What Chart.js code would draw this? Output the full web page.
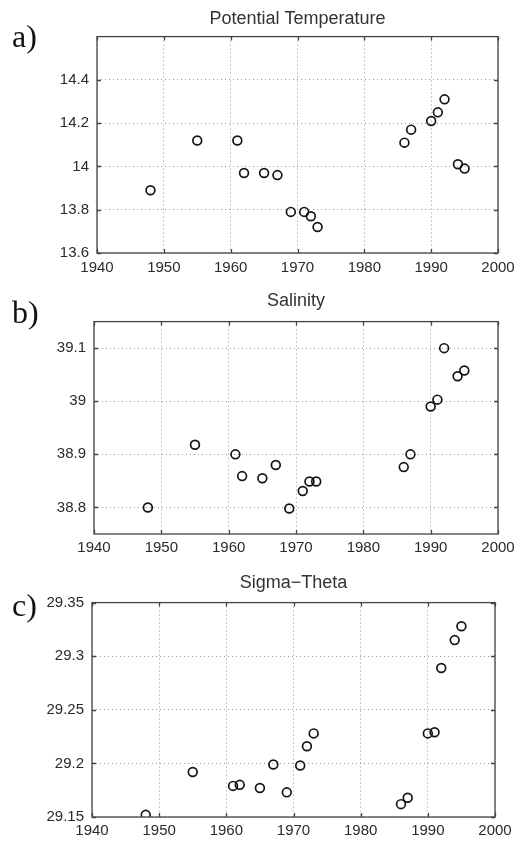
<!DOCTYPE html>
<html>
<head>
<meta charset="utf-8">
<script src="https://cdn.jsdelivr.net/npm/chart.js@4"></script>
<style>
    html, body { margin: 0; padding: 0; background: #fff; }
    #page { position: relative; width: 514px; height: 842px; overflow: hidden; }
    .panel { position: absolute; left: 0; width: 514px; }
    .tag { position: absolute; left: 12px; font-family: 'Liberation Serif', 'DejaVu Serif', serif; font-size: 32px; line-height: 1; color: #111; }
</style>
</head>
<body>
<div id="page">
    <div class="panel" style="top:0;height:280px"><canvas id="chartTemp"></canvas></div>
    <div class="panel" style="top:280px;height:280px"><canvas id="chartSal"></canvas></div>
    <div class="panel" style="top:560px;height:282px"><canvas id="chartSig"></canvas></div>
    <div class="tag" style="top:20px">a)</div>
    <div class="tag" style="top:296px">b)</div>
    <div class="tag" style="top:589px">c)</div>
</div>
<script>
const years = [1948, 1955, 1961, 1962, 1965, 1967, 1969, 1971, 1972, 1973, 1986, 1987, 1990, 1991, 1992, 1994, 1995];
const potentialTemperature = [13.89, 14.12, 14.12, 13.97, 13.97, 13.96, 13.79, 13.79, 13.77, 13.72, 14.11, 14.17, 14.21, 14.25, 14.31, 14.01, 13.99];
const salinity = [38.80, 38.918, 38.90, 38.859, 38.855, 38.88, 38.798, 38.831, 38.849, 38.849, 38.876, 38.90, 38.99, 39.003, 39.10, 39.047, 39.058];
const sigmaTheta = [29.152, 29.192, 29.179, 29.18, 29.177, 29.199, 29.173, 29.198, 29.216, 29.228, 29.162, 29.168, 29.228, 29.229, 29.289, 29.315, 29.328];

const yearTicks = [1940, 1950, 1960, 1970, 1980, 1990, 2000];
const tempTicks = [13.6, 13.8, 14, 14.2, 14.4];
const salTicks = [38.8, 38.9, 39, 39.1];
const sigTicks = [29.15, 29.2, 29.25, 29.3, 29.35];

const tickColor = '#2a2a2a';
const gridColor = 'rgba(120, 120, 120, 0.75)';
const frameColor = '#444';
const labelFont = "'Liberation Sans', Arial, sans-serif";

// matlab-style box with small inward ticks
const framePlugin = {
    id: 'frame',
    afterDatasetsDraw(chart) {
        const { ctx, chartArea: a, scales } = chart;
        ctx.save();
        ctx.strokeStyle = frameColor;
        ctx.lineWidth = 1.3;
        ctx.beginPath();
        scales.x.ticks.forEach((t) => {
            const px = Math.round(scales.x.getPixelForValue(t.value)) + 0.5;
            ctx.moveTo(px, a.bottom); ctx.lineTo(px, a.bottom - 4);
            ctx.moveTo(px, a.top); ctx.lineTo(px, a.top + 4);
        });
        scales.y.ticks.forEach((t) => {
            const py = Math.round(scales.y.getPixelForValue(t.value)) + 0.5;
            ctx.moveTo(a.left, py); ctx.lineTo(a.left + 4, py);
            ctx.moveTo(a.right, py); ctx.lineTo(a.right - 4, py);
        });
        ctx.stroke();
        ctx.strokeRect(a.left, a.top, a.right - a.left, a.bottom - a.top);
        ctx.restore();
    },
};

function makePanel(id, opts) {
    return new Chart(document.getElementById(id), {
        type: 'scatter',
        data: {
            datasets: [{
                data: years.map((x, i) => ({ x, y: opts.values[i] })),
                pointStyle: 'circle',
                pointRadius: 4.4,
                pointHoverRadius: 4.4,
                pointBorderWidth: 1.7,
                pointBorderColor: '#151515',
                pointBackgroundColor: 'rgba(0,0,0,0)',
            }],
        },
        options: {
            responsive: true,
            maintainAspectRatio: false,
            animation: false,
            layout: { padding: { left: 0, right: opts.right, top: 0, bottom: 0 } },
            plugins: {
                legend: { display: false },
                tooltip: { enabled: false },
                title: {
                    display: true,
                    text: opts.title,
                    fullSize: false,
                    color: '#333',
                    font: { family: labelFont, size: 18, weight: 'normal' },
                    padding: { top: opts.titleTop, bottom: opts.titleBottom },
                },
            },
            scales: {
                x: {
                    type: 'linear',
                    min: 1940,
                    max: 2000,
                    afterBuildTicks: (s) => { s.ticks = yearTicks.map((v) => ({ value: v })); },
                    afterFit: (s) => {
                        s.height = opts.xHeight;
                        s.paddingLeft = 0;
                        s.paddingRight = 0;
                    },
                    border: { display: false, dash: [1, 3] },
                    grid: { color: gridColor, lineWidth: 1, drawTicks: false },
                    ticks: {
                        color: tickColor,
                        padding: opts.xPad,
                        maxRotation: 0,
                        autoSkip: false,
                        font: { family: labelFont, size: 15 },
                        callback: (v) => String(v),
                    },
                },
                y: {
                    min: opts.min,
                    max: opts.max,
                    afterBuildTicks: (s) => { s.ticks = opts.ticks.map((v) => ({ value: v })); },
                    afterFit: (s) => {
                        s.width = opts.left;
                        s.paddingTop = 0;
                        s.paddingBottom = 0;
                    },
                    border: { display: false, dash: [1, 3] },
                    grid: { color: gridColor, lineWidth: 1, drawTicks: false },
                    ticks: {
                        color: tickColor,
                        padding: 8,
                        autoSkip: false,
                        font: { family: labelFont, size: 15 },
                        callback: (v) => String(Number(v.toFixed(2))),
                    },
                },
            },
        },
        plugins: [framePlugin],
    });
}

makePanel('chartTemp', { title: 'Potential Temperature', values: potentialTemperature, ticks: tempTicks, min: 13.6, max: 14.6, left: 97, right: 16, titleTop: 8, titleBottom: 7, xHeight: 27, xPad: 6 });
makePanel('chartSal', { title: 'Salinity', values: salinity, ticks: salTicks, min: 38.75, max: 39.15, left: 94, right: 16, titleTop: 10, titleBottom: 10, xHeight: 26, xPad: 5 });
makePanel('chartSig', { title: 'Sigma\u2212Theta', values: sigmaTheta, ticks: sigTicks, min: 29.15, max: 29.35, left: 92, right: 19, titleTop: 12, titleBottom: 9, xHeight: 25, xPad: 5 });
</script>
</body>
</html>
